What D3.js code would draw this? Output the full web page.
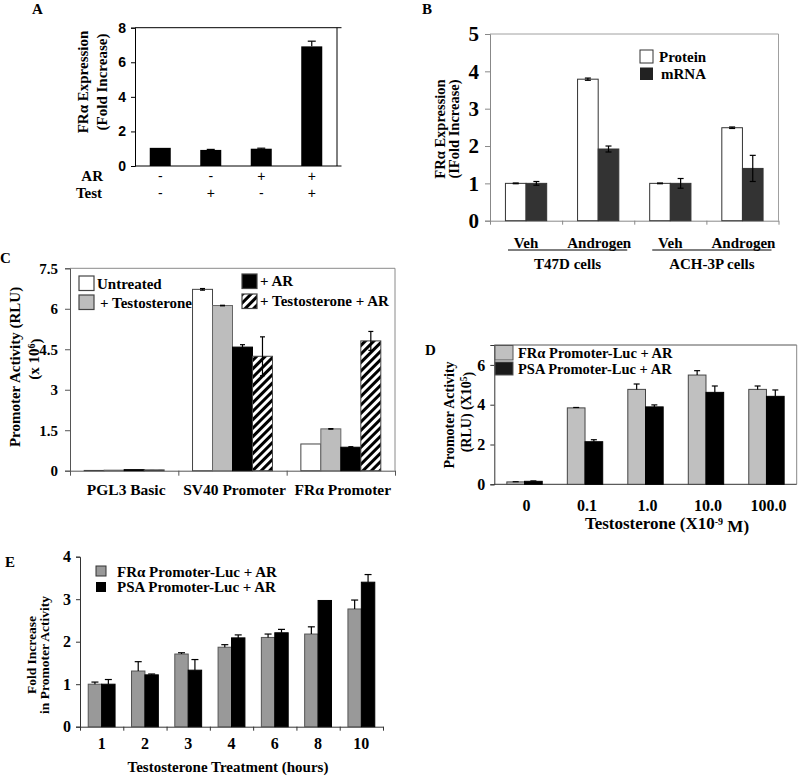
<!DOCTYPE html>
<html><head><meta charset="utf-8">
<script src="https://cdn.jsdelivr.net/npm/d3@7"></script>
<style>body{margin:0;background:#fff}</style>
</head><body>
<svg id="c" width="800" height="776" xmlns="http://www.w3.org/2000/svg"></svg>
<script>
// ---------- DATA ----------
// Panel A
const aCats = ["1", "2", "3", "4"];
const aValues = [1.05, 0.93, 1.0, 6.92];
const aErr = [0.0, 0.03, 0.03, 0.3];
const aAR = ["-", "-", "+", "+"];
const aTest = ["-", "+", "-", "+"];
const aTicks = [0, 2, 4, 6, 8];
// Panel B
const bCats = ["Veh", "Androgen", "Veh", "Androgen"];
const bGroups = ["T47D cells", "ACH-3P cells"];
const bSeries = ["Protein", "mRNA"];
const bProtein = [1.0, 3.79, 1.0, 2.49];
const bProteinErr = [0.01, 0.03, 0.01, 0.02];
const bMrna = [1.0, 1.92, 1.0, 1.40];
const bMrnaErr = [0.05, 0.08, 0.13, 0.35];
const bTicks = [0, 1, 2, 3, 4, 5];
// Panel C
const cCats = ["PGL3 Basic", "SV40 Promoter", "FRα Promoter"];
const cSeries = ["Untreated", "+ Testosterone", "+ AR", "+ Testosterone + AR"];
const cUntreated = [0.01, 6.72, 0.99];
const cUntreatedErr = [0, 0.03, 0];
const cTestost = [0.02, 6.12, 1.55];
const cTestostErr = [0, 0.01, 0.01];
const cAR = [0.04, 4.58, 0.87];
const cARErr = [0, 0.09, 0.02];
const cTestAR = [0.03, 4.24, 4.81];
const cTestARErr = [0, 0.72, 0.35];
const cTicks = [0, 1.5, 3, 4.5, 6, 7.5];
const cTickLabels = ["0", "1.5", "3", "4.5", "6", "7.5"];
// Panel D
const dCats = ["0", "0.1", "1.0", "10.0", "100.0"];
const dSeries = ["FRα Promoter-Luc + AR", "PSA Promoter-Luc + AR"];
const dFra = [0.12, 3.84, 4.77, 5.49, 4.77];
const dFraErr = [0.01, 0.02, 0.27, 0.22, 0.17];
const dPsa = [0.15, 2.14, 3.89, 4.62, 4.42];
const dPsaErr = [0.02, 0.1, 0.1, 0.32, 0.32];
const dTicks = [0, 2, 4, 6];
// Panel E
const eCats = ["1", "2", "3", "4", "6", "8", "10"];
const eSeries = ["FRα Promoter-Luc + AR", "PSA Promoter-Luc + AR"];
const eFra = [1.0, 1.31, 1.71, 1.87, 2.10, 2.18, 2.77];
const eFraErr = [0.05, 0.22, 0.03, 0.06, 0.08, 0.17, 0.21];
const ePsa = [1.0, 1.22, 1.33, 2.09, 2.21, 2.97, 3.40];
const ePsaErr = [0.11, 0.02, 0.25, 0.07, 0.08, 0, 0.18];
const eTicks = [0, 1, 2, 3, 4];

// ---------- HELPERS ----------
const svg = d3.select("#c");
const SERIF = "'Liberation Serif','Times New Roman',serif";
const SANS = "'Liberation Sans',Arial,sans-serif";

const defs = svg.append("defs");
const pat = defs.append("pattern").attr("id", "hatch").attr("width", 6).attr("height", 6)
  .attr("patternUnits", "userSpaceOnUse").attr("patternTransform", "rotate(45)");
pat.append("rect").attr("width", 6).attr("height", 6).attr("fill", "#fff");
pat.append("rect").attr("x", 0).attr("y", 0).attr("width", 3).attr("height", 6).attr("fill", "#000");

function txt(g, x, y, s, size, opts = {}) {
  const t = g.append("text").attr("x", x).attr("y", y)
    .attr("font-family", opts.family || SERIF).attr("font-weight", opts.weight || "bold")
    .attr("font-size", size).attr("fill", opts.fill || "#000")
    .attr("text-anchor", opts.anchor || "start");
  if (opts.rotate) t.attr("transform", `rotate(-90,${x},${y})`);
  if (opts.dy) t.attr("dy", opts.dy);
  t.text(s);
  return t;
}

function groupedBars(g, x0, x1, y, n, series, padInner, capW, both) {
  const xb = d3.scaleBand().domain(d3.range(n)).range([x0, x1]).paddingInner(padInner).paddingOuter(padInner / 2);
  const xs = d3.scaleBand().domain(d3.range(series.length)).range([0, xb.bandwidth()]);
  series.forEach((s, si) => {
    const data = s.values.map((v, i) => ({ v, e: s.errs ? s.errs[i] : 0, i }));
    g.append("g").selectAll("rect").data(data).join("rect")
      .attr("x", d => xb(d.i) + xs(si)).attr("y", d => y(d.v))
      .attr("width", xs.bandwidth()).attr("height", d => y(0) - y(d.v))
      .attr("fill", s.fill).attr("stroke", s.stroke || "none").attr("stroke-width", s.sw || 1);
    const eg = g.append("g").attr("stroke", s.errColor || "#000").attr("stroke-width", 1.2);
    data.filter(d => d.e > 0).forEach(d => {
      const cx = xb(d.i) + xs(si) + xs.bandwidth() / 2;
      eg.append("line").attr("x1", cx).attr("x2", cx)
        .attr("y1", both ? y(d.v - d.e) : y(d.v)).attr("y2", y(d.v + d.e));
      eg.append("line").attr("x1", cx - capW / 2).attr("x2", cx + capW / 2)
        .attr("y1", y(d.v + d.e)).attr("y2", y(d.v + d.e));
      if (both) eg.append("line").attr("x1", cx - capW / 2).attr("x2", cx + capW / 2)
        .attr("y1", y(d.v - d.e)).attr("y2", y(d.v - d.e));
    });
  });
  return xb;
}

function leftAxis(g, x, y, ticks, fmt, size, family, tickSize, tickPad, color) {
  const ax = g.append("g").attr("transform", `translate(${x},0)`)
    .call(d3.axisLeft(y).tickValues(ticks).tickFormat(fmt).tickSize(tickSize).tickPadding(tickPad));
  ax.selectAll("text").attr("font-family", family).attr("font-weight", "bold").attr("font-size", size).attr("fill", "#000");
  ax.selectAll("line").attr("stroke", color);
  ax.select(".domain").attr("stroke", color);
  return ax;
}

function catTicks(g, x0, x1, yPos, n, color, len) {
  const s = d3.scaleLinear().domain([0, n]).range([x0, x1]);
  const ax = g.append("g").attr("transform", `translate(0,${yPos})`)
    .call(d3.axisBottom(s).tickValues(d3.range(n + 1)).tickFormat("").tickSize(len).tickSizeOuter(0));
  ax.selectAll("line").attr("stroke", color);
  ax.select(".domain").attr("stroke", color);
  return ax;
}

// ---------- PANEL A ----------
{
  const g = svg.append("g");
  const X0 = 135, X1 = 337, YT = 27.7, YB = 166;
  const y = d3.scaleLinear().domain([0, 8]).range([YB, YT]);
  g.append("line").attr("x1", X0).attr("x2", X1 + 4.5).attr("y1", y(8)).attr("y2", y(8)).attr("stroke", "#000");
  g.append("line").attr("x1", X0).attr("x2", X1 + 4.5).attr("y1", y(0)).attr("y2", y(0)).attr("stroke", "#000");
  g.append("line").attr("x1", X1).attr("x2", X1).attr("y1", y(8)).attr("y2", y(0)).attr("stroke", "#000");
  leftAxis(g, X0, y, aTicks, d3.format("d"), 14, SANS, 4, 5, "#000");
  const xb = groupedBars(g, X0, X1, y, aCats.length, [{ values: aValues, errs: aErr, fill: "#000" }], 0.584, 8, false);
  txt(g, 32, 14, "A", 15);
  txt(g, 83, 82, "FRα Expression", 15, { anchor: "middle", rotate: true, dy: "0.35em" });
  txt(g, 102, 82, "(Fold Increase)", 15, { anchor: "middle", rotate: true, dy: "0.35em" });
  txt(g, 103, 181, "AR", 15, { anchor: "end" });
  txt(g, 102, 198, "Test", 15, { anchor: "end" });
  aAR.forEach((s, i) => txt(g, xb(i) + xb.bandwidth() / 2, 181, s, 14, { anchor: "middle", family: SANS, weight: "normal" }));
  aTest.forEach((s, i) => txt(g, xb(i) + xb.bandwidth() / 2, 198, s, 14, { anchor: "middle", family: SANS, weight: "normal" }));
}

// ---------- PANEL B ----------
{
  const g = svg.append("g");
  const X0 = 490, X1 = 778.5, YT = 34, YB = 220.7;
  const y = d3.scaleLinear().domain([0, 5]).range([YB, YT]);
  const fc = "#a0a0a0";
  g.append("line").attr("x1", X0).attr("x2", X1).attr("y1", YT).attr("y2", YT).attr("stroke", fc);
  g.append("line").attr("x1", X1).attr("x2", X1).attr("y1", YT).attr("y2", YB).attr("stroke", fc);
  leftAxis(g, X0, y, bTicks, d3.format("d"), 21, SERIF, 5, 6, "#888");
  catTicks(g, X0, X1, YB, bCats.length, "#888", 4);
  groupedBars(g, X0, X1, y, bCats.length, [
    { values: bProtein, errs: bProteinErr, fill: "#fff", stroke: "#333" },
    { values: bMrna, errs: bMrnaErr, fill: "#333", stroke: "#333", errColor: "#000" }
  ], 0.428, 6, true);
  txt(g, 422, 14, "B", 15);
  txt(g, 440, 129, "FRα Expression", 14.5, { anchor: "middle", rotate: true, dy: "0.35em" });
  txt(g, 454, 129, "(IFold Increase)", 14.5, { anchor: "middle", rotate: true, dy: "0.35em" });
  const catX = d3.scaleBand().domain(d3.range(bCats.length)).range([X0, X1]);
  bCats.forEach((c, i) => txt(g, catX(i) + catX.bandwidth() / 2 + (i % 2 ? 1 : 0), 248, c, 15, { anchor: "middle" }));
  // group underlines and labels
  bGroups.forEach((gname, k) => {
    const gx0 = catX(2 * k) + 18, gx1 = catX(2 * k + 1) + catX.bandwidth() - 7;
    g.append("line").attr("x1", gx0).attr("x2", gx1).attr("y1", 250).attr("y2", 250).attr("stroke", "#000").attr("stroke-width", 1.2);
    txt(g, (gx0 + gx1) / 2, 269, gname, 15, { anchor: "middle" });
  });
  // legend
  const lg = g.append("g");
  lg.append("rect").attr("x", 640).attr("y", 50).attr("width", 13).attr("height", 13).attr("fill", "#fff").attr("stroke", "#333");
  lg.append("rect").attr("x", 640).attr("y", 67.5).attr("width", 13).attr("height", 12.5).attr("fill", "#222");
  txt(lg, 659, 57, bSeries[0], 15, { dy: "0.35em" });
  txt(lg, 661, 74, bSeries[1], 15, { dy: "0.35em" });
}

// ---------- PANEL C ----------
{
  const g = svg.append("g");
  const X0 = 70, X1 = 395, YT = 268.3, YB = 470.7;
  const y = d3.scaleLinear().domain([0, 7.5]).range([YB, YT]);
  const fc = "#8a8a8a";
  g.append("line").attr("x1", X0).attr("x2", X1).attr("y1", YT).attr("y2", YT).attr("stroke", fc);
  g.append("line").attr("x1", X1).attr("x2", X1).attr("y1", YT).attr("y2", YB).attr("stroke", fc);
  leftAxis(g, X0, y, cTicks, (d, i) => cTickLabels[i], 15, SERIF, 5, 7, "#555");
  catTicks(g, X0, X1, YB, cCats.length, "#555", 5);
  const fills = ["#fff", "#bdbdbd", "#000", "url(#hatch)"];
  groupedBars(g, X0, X1, y, cCats.length, [
    { values: cUntreated, errs: cUntreatedErr, fill: fills[0], stroke: "#444" },
    { values: cTestost, errs: cTestostErr, fill: fills[1], stroke: "#666" },
    { values: cAR, errs: cARErr, fill: fills[2], stroke: "#000" },
    { values: cTestAR, errs: cTestARErr, fill: fills[3], stroke: "#444" }
  ], 0.262, 5, true);
  txt(g, 0, 263, "C", 15);
  txt(g, 15, 367, "Promoter Activity (RLU)", 15, { anchor: "middle", rotate: true, dy: "0.35em" });
  const t2 = txt(g, 34, 359, "(x 10", 15, { anchor: "middle", rotate: true, dy: "0.35em" });
  t2.append("tspan").attr("dy", "-0.4em").attr("font-size", 10).text("6");
  t2.append("tspan").attr("dy", "0.4em").text(")");
  const catX = d3.scaleBand().domain(d3.range(cCats.length)).range([X0, X1]);
  cCats.forEach((c, i) => txt(g, catX(i) + catX.bandwidth() / 2 + 2, 495, c, 15.5, { anchor: "middle" }));
  // legend
  const lg = g.append("g");
  const L = [
    { x: 79, y: 276, tx: 97, ty: 283.5 },
    { x: 79, y: 295, tx: 100, ty: 302.5 },
    { x: 242, y: 274, tx: 260, ty: 281 },
    { x: 242, y: 294, tx: 260, ty: 301 }
  ];
  L.forEach((p, i) => {
    lg.append("rect").attr("x", p.x).attr("y", p.y).attr("width", 15).attr("height", 14.5)
      .attr("fill", fills[i]).attr("stroke", "#444").attr("stroke-width", 1.2);
    txt(lg, p.tx, p.ty, cSeries[i], 15, { dy: "0.35em" });
  });
}

// ---------- PANEL D ----------
{
  const g = svg.append("g");
  const X0 = 494.3, X1 = 796.7, YT = 345, YB = 484.3;
  const y = d3.scaleLinear().domain([0, 7]).range([YB, YT]);
  const fc = "#555";
  g.append("line").attr("x1", X0).attr("x2", X1).attr("y1", YT).attr("y2", YT).attr("stroke", fc);
  g.append("line").attr("x1", X1).attr("x2", X1).attr("y1", YT).attr("y2", YB).attr("stroke", "#888");
  leftAxis(g, X0, y, dTicks, d3.format("d"), 16, SERIF, 4, 5, "#333");
  g.append("line").attr("x1", X0).attr("x2", X1).attr("y1", YB).attr("y2", YB).attr("stroke", "#333");
  const xb = groupedBars(g, X0, X1, y, dCats.length, [
    { values: dFra, errs: dFraErr, fill: "#c0c0c0", stroke: "#444" },
    { values: dPsa, errs: dPsaErr, fill: "#000", stroke: "#000" }
  ], 0.415, 6, false);
  txt(g, 425, 355, "D", 15);
  txt(g, 449, 415, "Promoter Activity", 14, { anchor: "middle", rotate: true, dy: "0.35em" });
  const t2 = txt(g, 466, 412, "(RLU) (X10", 14, { anchor: "middle", rotate: true, dy: "0.35em" });
  t2.append("tspan").attr("dy", "-0.4em").attr("font-size", 9.5).text("5");
  t2.append("tspan").attr("dy", "0.4em").text(")");
  dCats.forEach((c, i) => txt(g, xb(i) + xb.bandwidth() / 2 + 2, 511, c, 16, { anchor: "middle" }));
  const xt = txt(g, 667, 529, "Testosterone (X10", 17, { anchor: "middle" });
  xt.append("tspan").attr("dy", "-0.45em").attr("font-size", 10).text("-9");
  xt.append("tspan").attr("dy", "0.45em").text(" M)");
  // legend
  const lg = g.append("g");
  lg.append("rect").attr("x", 495).attr("y", 345.5).attr("width", 18).attr("height", 14.5).attr("fill", "#c0c0c0").attr("stroke", "#555");
  lg.append("rect").attr("x", 495).attr("y", 362).attr("width", 18).attr("height", 13).attr("fill", "#1a1a1a").attr("stroke", "#555");
  txt(lg, 518, 353, dSeries[0], 14.5, { dy: "0.35em" });
  txt(lg, 518, 369, dSeries[1], 14.5, { dy: "0.35em" });
}

// ---------- PANEL E ----------
{
  const g = svg.append("g");
  const X0 = 80, X1 = 383, YT = 556.7, YB = 726.7;
  const y = d3.scaleLinear().domain([0, 4]).range([YB, YT]);
  leftAxis(g, X0, y, eTicks, d3.format("d"), 16, SERIF, 4, 5, "#333");
  catTicks(g, X0, X1, YB, eCats.length, "#333", 4);
  const xb = groupedBars(g, X0, X1, y, eCats.length, [
    { values: eFra, errs: eFraErr, fill: "#999", stroke: "#555" },
    { values: ePsa, errs: ePsaErr, fill: "#000", stroke: "#000" }
  ], 0.38, 7, false);
  txt(g, 5, 567, "E", 15);
  txt(g, 31, 655, "Fold Increase", 13.5, { anchor: "middle", rotate: true, dy: "0.35em" });
  txt(g, 44, 655, "in Promoter Activity", 13.5, { anchor: "middle", rotate: true, dy: "0.35em" });
  eCats.forEach((c, i) => txt(g, xb(i) + xb.bandwidth() / 2, 749, c, 16, { anchor: "middle" }));
  txt(g, 228, 772, "Testosterone Treatment (hours)", 15, { anchor: "middle" });
  const lg = g.append("g");
  lg.append("rect").attr("x", 96).attr("y", 566).attr("width", 10).attr("height", 10).attr("fill", "#999").attr("stroke", "#333");
  lg.append("rect").attr("x", 96).attr("y", 582).attr("width", 10).attr("height", 10).attr("fill", "#000");
  txt(lg, 117, 571.5, eSeries[0], 15, { dy: "0.35em" });
  txt(lg, 117, 586.5, eSeries[1], 15, { dy: "0.35em" });
}
</script>
</body></html>
